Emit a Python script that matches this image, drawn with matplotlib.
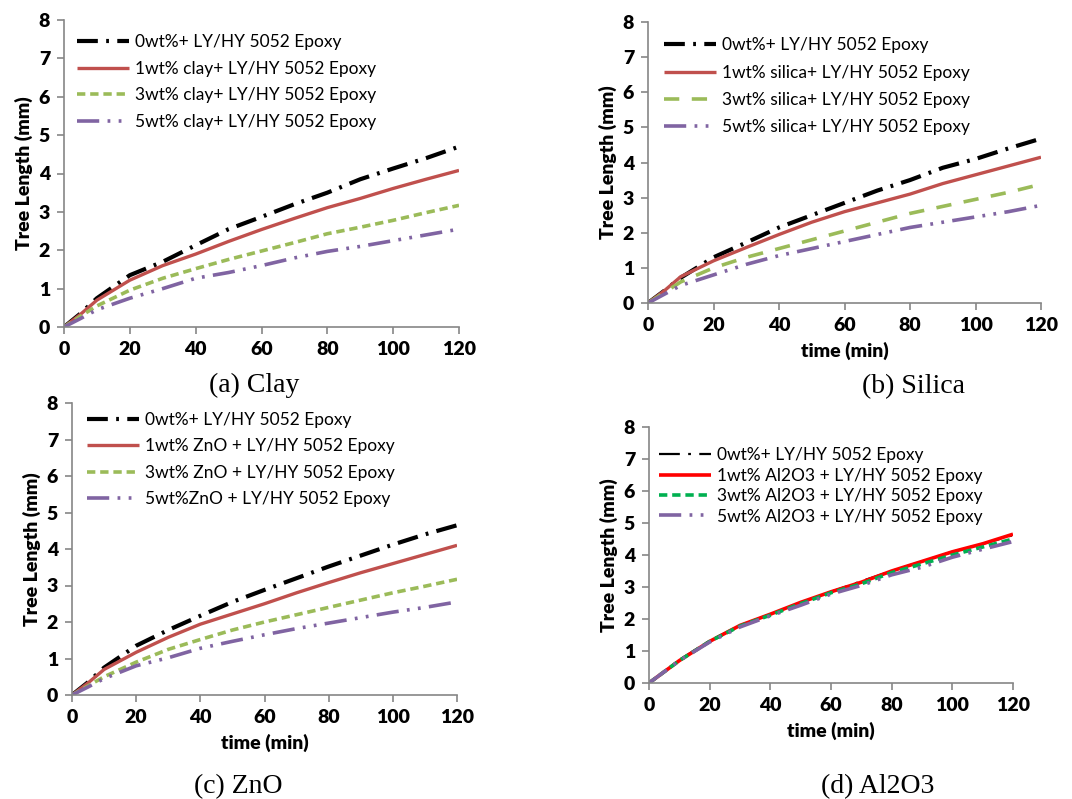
import matplotlib
matplotlib.use("Agg")
import matplotlib.pyplot as plt

plt.rcParams['font.family'] = ['Lato', 'DejaVu Sans']
plt.rcParams['lines.scale_dashes'] = False

# time (min)
t = [0, 5, 10, 20, 30, 40, 50, 60, 70, 80, 90, 100, 110, 120]

# tree length (mm) for each filler and loading
clay_0 = [0, 0.35, 0.75, 1.35, 1.70, 2.13, 2.55, 2.87, 3.20, 3.50, 3.85, 4.13, 4.40, 4.70]
clay_1 = [0, 0.33, 0.70, 1.22, 1.60, 1.90, 2.23, 2.54, 2.83, 3.11, 3.35, 3.61, 3.85, 4.08]
clay_3 = [0, 0.28, 0.55, 0.96, 1.27, 1.52, 1.76, 1.98, 2.20, 2.43, 2.60, 2.78, 2.98, 3.17]
clay_5 = [0, 0.22, 0.45, 0.75, 1.00, 1.27, 1.42, 1.60, 1.80, 1.97, 2.10, 2.25, 2.40, 2.55]

sil_0 = [0, 0.35, 0.72, 1.30, 1.72, 2.15, 2.50, 2.85, 3.20, 3.50, 3.85, 4.10, 4.40, 4.68]
sil_1 = [0, 0.35, 0.75, 1.20, 1.58, 1.95, 2.30, 2.60, 2.85, 3.10, 3.40, 3.65, 3.90, 4.15]
sil_3 = [0, 0.30, 0.60, 1.00, 1.30, 1.55, 1.80, 2.05, 2.30, 2.55, 2.75, 2.95, 3.15, 3.38]
sil_5 = [0, 0.25, 0.50, 0.80, 1.10, 1.35, 1.55, 1.75, 1.95, 2.15, 2.30, 2.45, 2.60, 2.78]

zno_0 = [0, 0.35, 0.75, 1.35, 1.78, 2.17, 2.55, 2.88, 3.20, 3.52, 3.82, 4.12, 4.40, 4.65]
zno_1 = [0, 0.33, 0.70, 1.17, 1.58, 1.94, 2.22, 2.50, 2.80, 3.08, 3.35, 3.60, 3.85, 4.10]
zno_3 = [0, 0.25, 0.50, 0.90, 1.25, 1.52, 1.78, 2.00, 2.20, 2.40, 2.60, 2.80, 2.98, 3.17]
zno_5 = [0, 0.22, 0.45, 0.80, 1.02, 1.28, 1.47, 1.65, 1.82, 1.97, 2.12, 2.27, 2.40, 2.55]

al_0 = [0, 0.35, 0.72, 1.32, 1.80, 2.15, 2.50, 2.85, 3.18, 3.50, 3.80, 4.10, 4.35, 4.62]
al_1 = [0, 0.35, 0.70, 1.30, 1.80, 2.15, 2.52, 2.85, 3.15, 3.50, 3.80, 4.10, 4.35, 4.65]
al_3 = [0, 0.35, 0.70, 1.30, 1.78, 2.12, 2.48, 2.82, 3.10, 3.45, 3.72, 4.00, 4.25, 4.50]
al_5 = [0, 0.35, 0.70, 1.28, 1.75, 2.10, 2.43, 2.78, 3.05, 3.38, 3.62, 3.93, 4.18, 4.42]

labels_clay = ['0wt%+ LY/HY 5052 Epoxy', '1wt% clay+ LY/HY 5052 Epoxy',
               '3wt% clay+ LY/HY 5052 Epoxy', '5wt% clay+ LY/HY 5052 Epoxy']
labels_sil = ['0wt%+ LY/HY 5052 Epoxy', '1wt% silica+ LY/HY 5052 Epoxy',
              '3wt% silica+ LY/HY 5052 Epoxy', '5wt% silica+ LY/HY 5052 Epoxy']
labels_zno = ['0wt%+ LY/HY 5052 Epoxy', '1wt% ZnO + LY/HY 5052 Epoxy',
              '3wt% ZnO + LY/HY 5052 Epoxy', '5wt%ZnO + LY/HY 5052 Epoxy']
labels_al = ['0wt%+ LY/HY 5052 Epoxy', '1wt% Al2O3 + LY/HY 5052 Epoxy',
             '3wt% Al2O3 + LY/HY 5052 Epoxy', '5wt% Al2O3 + LY/HY 5052 Epoxy']

captions = ['(a) Clay', '(b) Silica', '(c) ZnO', '(d) Al2O3']

BLACK_DASH = (0, (15, 6, 2, 6))
PURPLE_DASH = (0, (16, 6, 2, 6, 2, 6))
SHORT_DASH = (0, (6, 3.5))
LONG_DASH = (0, (11, 9))

GRAY = '#868686'


def panel(rect, series, labels, styles, leg_anchor, leg_space, xlabel=True):
    ax = fig.add_axes(rect)
    for y, lab, (c, ls, lw) in zip(series, labels, styles):
        ax.plot(t, y, color=c, linestyle=ls, linewidth=lw, label=lab,
                dash_capstyle='butt', solid_capstyle='butt')
    ax.set_xlim(0, 120)
    ax.set_ylim(0, 8)
    ax.set_xticks(range(0, 121, 20))
    ax.set_yticks(range(0, 9))
    for s in ['top', 'right']:
        ax.spines[s].set_visible(False)
    for s in ['left', 'bottom']:
        ax.spines[s].set_color(GRAY)
        ax.spines[s].set_linewidth(1.2)
    ax.tick_params(direction='out', length=5, width=1.2, color=GRAY,
                   labelsize=14, pad=5)
    for lbl in ax.get_xticklabels() + ax.get_yticklabels():
        lbl.set_fontweight('heavy')
    ax.set_ylabel('Tree Length (mm)', fontsize=14, fontweight='heavy', labelpad=4)
    if xlabel:
        ax.set_xlabel('time (min)', fontsize=14, fontweight='heavy', labelpad=6)
    ax.legend(loc='upper left', bbox_to_anchor=leg_anchor, frameon=False,
              fontsize=12.5, handlelength=3.0, handletextpad=0.35,
              labelspacing=leg_space, borderpad=0, borderaxespad=0)
    return ax


fig = plt.figure(figsize=(10.72, 7.99), dpi=100)

styles_abc = [('black', BLACK_DASH, 3.0), ('#C0504D', '-', 2.4),
              ('#9BBB59', SHORT_DASH, 2.6), ('#8064A2', PURPLE_DASH, 2.6)]
styles_b = [('black', BLACK_DASH, 3.0), ('#C0504D', '-', 2.4),
            ('#9BBB59', LONG_DASH, 2.6), ('#8064A2', PURPLE_DASH, 2.6)]
styles_d = [('black', BLACK_DASH, 1.6), ('#FF0000', '-', 2.6),
            ('#00B050', SHORT_DASH, 2.6), ('#8064A2', PURPLE_DASH, 2.6)]

panel([64 / 1072, 1 - 327 / 799, 395 / 1072, 307 / 799],
      [clay_0, clay_1, clay_3, clay_5], labels_clay, styles_abc,
      (0.033, 0.955), 0.62, xlabel=False)
panel([648 / 1072, 1 - 303 / 799, 393 / 1072, 281 / 799],
      [sil_0, sil_1, sil_3, sil_5], labels_sil, styles_b,
      (0.04, 0.945), 0.65)
panel([72 / 1072, 1 - 695 / 799, 385 / 1072, 292 / 799],
      [zno_0, zno_1, zno_3, zno_5], labels_zno, styles_abc,
      (0.039, 0.97), 0.6)
panel([649 / 1072, 1 - 683 / 799, 364 / 1072, 256 / 799],
      [al_0, al_1, al_3, al_5], labels_al, styles_d,
      (0.027, 0.92), 0.25)

cap_pos = [(254, 385), (914, 387), (238, 787), (878, 787)]
for txt, (px, py) in zip(captions, cap_pos):
    fig.text(px / 1072, 1 - py / 799, txt, ha='center', va='center',
             fontsize=20, family='Liberation Serif')

fig.savefig('out.png', dpi=100)
